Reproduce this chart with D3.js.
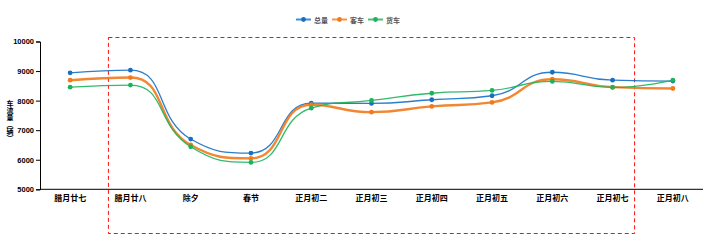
<!DOCTYPE html>
<html><head><meta charset="utf-8">
<script src="https://cdn.jsdelivr.net/npm/d3@7"></script>
<style>
html,body{margin:0;padding:0;background:#fff;}
svg{display:block;}
text{font-family:"Noto Sans CJK SC","Liberation Sans",sans-serif;}
</style></head>
<body><svg id="c" width="727" height="246"></svg>
<script>
const categories = ["腊月廿七","腊月廿八","除夕","春节","正月初二","正月初三","正月初四","正月初五","正月初六","正月初七","正月初八"];
const seriesNames = ["总量","客车","货车"];
const totalValues = [8940, 9030, 6700, 6225, 7915, 7905, 8030, 8165, 8960, 8690, 8660];
const passengerValues = [8690, 8780, 6500, 6045, 7860, 7610, 7805, 7940, 8725, 8455, 8410];
const freightValues = [8455, 8525, 6440, 5910, 7745, 8005, 8250, 8345, 8650, 8445, 8690];
const yTicks = [5000, 6000, 7000, 8000, 9000, 10000];
const yLabel = "车流量（辆）";

const colors = ["#1570c4", "#f07a1c", "#1db35a"];
const widths = [1.3, 2.4, 1.3];
const series = [totalValues, passengerValues, freightValues];

// smooth curve with control-point constraint (no overshoot)
function SmoothCurve(context) { this._context = context; }
SmoothCurve.prototype = {
  areaStart() { this._line = 0; }, areaEnd() { this._line = NaN; },
  lineStart() { this._pts = []; },
  point(x, y) { this._pts.push([+x, +y]); },
  lineEnd() {
    const p = this._pts, c = this._context, s = 0.5, n = p.length;
    if (!n) return;
    c.moveTo(p[0][0], p[0][1]);
    let cpx0 = p[0][0], cpy0 = p[0][1];
    const mn = Math.min, mx = Math.max;
    for (let i = 1; i < n; i++) {
      const [px, py] = p[i - 1], [x, y] = p[i];
      let cpx1, cpy1, ncx = x, ncy = y;
      if (i === n - 1) { cpx1 = x; cpy1 = y; }
      else {
        const [nx, ny] = p[i + 1];
        let vx = nx - px, vy = ny - py;
        const l0 = Math.hypot(x - px, y - py), l1 = Math.hypot(nx - x, ny - y);
        const r = l1 / (l0 + l1);
        ncx = x + vx * s * r; ncy = y + vy * s * r;
        ncx = mx(mn(ncx, mx(nx, x)), mn(nx, x));
        ncy = mx(mn(ncy, mx(ny, y)), mn(ny, y));
        vx = ncx - x; vy = ncy - y;
        cpx1 = x - vx * l0 / l1; cpy1 = y - vy * l0 / l1;
        cpx1 = mx(mn(cpx1, mx(px, x)), mn(px, x));
        cpy1 = mx(mn(cpy1, mx(py, y)), mn(py, y));
        vx = x - cpx1; vy = y - cpy1;
        ncx = x + vx * l1 / l0; ncy = y + vy * l1 / l0;
      }
      c.bezierCurveTo(cpx0, cpy0, cpx1, cpy1, x, y);
      cpx0 = ncx; cpy0 = ncy;
    }
  }
};
const curveSmooth = ctx => new SmoothCurve(ctx);

const svg = d3.select("#c");
const x = d3.scaleBand().domain(categories).range([40, 703]);
const y = d3.scaleLinear().domain([5000, 10000]).range([189.3, 41.5]);
const cx = d => x(d) + x.bandwidth() / 2;

// y axis
const ya = svg.append("g").attr("transform", "translate(40,0)")
  .call(d3.axisLeft(y).tickValues(yTicks).tickSize(4).tickPadding(2).tickFormat(d3.format("d")));
ya.select(".domain").attr("stroke", "#000");
ya.selectAll(".tick line").attr("stroke", "#000");
ya.selectAll("text").attr("font-size", 7.5).attr("font-weight", "bold").attr("fill", "#000")
  .style("font-family", "'Liberation Sans',sans-serif");

// x axis
const xa = svg.append("g").attr("transform", "translate(0,189.3)")
  .call(d3.axisBottom(x).tickSize(0).tickPadding(6));
xa.select(".domain").attr("stroke", "#000").attr("d", "M40,0H703");
xa.selectAll("text").attr("font-size", 8).attr("font-weight", "bold").attr("fill", "#000");

// y label (vertical writing, upright characters)
svg.append("text")
  .attr("x", 10).attr("y", 100)
  .style("writing-mode", "vertical-rl").style("text-orientation", "upright")
  .attr("font-size", 7).attr("font-weight", "bold").attr("fill", "#000").text(yLabel);

// dashed annotation rectangle
const rx0 = cx(categories[1]) - 22, rx1 = cx(categories[9]) + 22;
svg.append("rect").attr("x", rx0).attr("y", 37.5).attr("width", rx1 - rx0).attr("height", 196)
  .attr("fill", "none").attr("stroke", "#ff1010").attr("stroke-width", 1).attr("stroke-dasharray", "4,3");

// lines
const line = d3.line().x((d, i) => cx(categories[i])).y(d => y(d)).curve(curveSmooth);
series.forEach((vals, k) => {
  svg.append("path").attr("d", line(vals)).attr("fill", "none")
    .attr("stroke", colors[k]).attr("stroke-width", widths[k]).attr("stroke-opacity", 0.9);
});
series.forEach((vals, k) => {
  svg.append("g").selectAll("circle").data(vals).join("circle")
    .attr("cx", (d, i) => cx(categories[i])).attr("cy", d => y(d)).attr("r", 2.4)
    .attr("fill", colors[k]);
});

// legend
const legX = [296, 332, 368];
seriesNames.forEach((n, k) => {
  const g = svg.append("g").attr("transform", `translate(${legX[k]},19.5)`);
  g.append("line").attr("x1", 0).attr("x2", 15).attr("stroke", colors[k]).attr("stroke-width", 2).attr("stroke-opacity", 0.8);
  g.append("circle").attr("cx", 7.5).attr("r", 2.4).attr("fill", colors[k]);
  g.append("text").attr("x", 18).attr("y", 0).attr("dominant-baseline", "central")
    .attr("font-size", 7).attr("font-weight", "bold").attr("fill", "#555").text(n);
});
</script></body></html>
